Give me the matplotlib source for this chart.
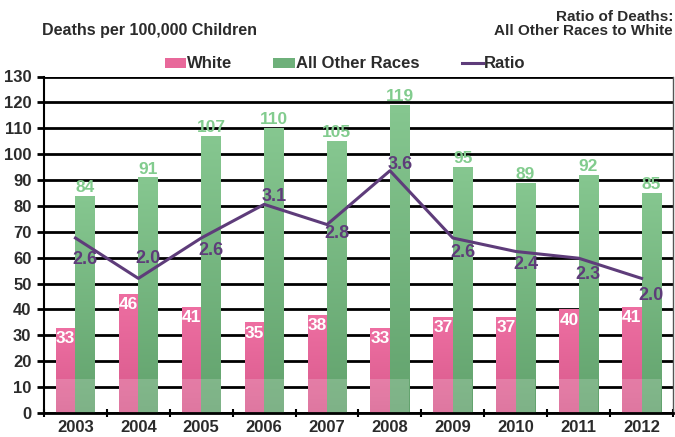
import matplotlib
matplotlib.use("Agg")
import matplotlib.pyplot as plt
from matplotlib.colors import LinearSegmentedColormap
from matplotlib import font_manager
import numpy as np

years = ["2003", "2004", "2005", "2006", "2007", "2008", "2009", "2010", "2011", "2012"]
white = [33, 46, 41, 35, 38, 33, 37, 37, 40, 41]
other = [84, 91, 107, 110, 105, 119, 95, 89, 92, 85]
ratio = [2.6, 2.0, 2.6, 3.1, 2.8, 3.6, 2.6, 2.4, 2.3, 2.0]
yticks = list(range(0, 131, 10))

# vertical placement of the ratio labels relative to their points (pixels, + is down)
ratio_label_dy = [21, -20, 12, -8, 9, -6, 14, 13, 16, 17]


def pick_family(*names):
    for n in names:
        try:
            font_manager.findfont(font_manager.FontProperties(family=n), fallback_to_default=False)
            return n
        except Exception:
            continue
    return "DejaVu Sans"


NARROW = pick_family("Liberation Sans Narrow", "Liberation Sans")
plt.rcParams['font.family'] = [NARROW, 'Liberation Sans', 'DejaVu Sans']
plt.rcParams['font.weight'] = 'bold'

PINK = "#e8689a"
GREEN = "#6eb07a"
GREEN_TXT = "#82cc8e"
PURPLE = "#5e3c7a"
TXT = "#2b2b2b"

fig = plt.figure(figsize=(6.75, 4.37), dpi=100)
W, H = 675, 437
left, right, top, bottom = 44, 673, 76.5, 413
ax = fig.add_axes([left / W, 1 - bottom / H, (right - left) / W, (bottom - top) / H])

x = np.arange(len(years))
bw = 0.31


def gradient_bars(xs, vals, c_top, c_bot):
    grad = np.linspace(0, 1, 256).reshape(-1, 1)
    cmap = LinearSegmentedColormap.from_list("g", [c_bot, c_top])
    bars = ax.bar(xs, vals, bw, color=c_bot, edgecolor="none", zorder=3)
    for b in bars:
        x0, y0 = b.get_x(), b.get_y()
        w, h = b.get_width(), b.get_height()
        im = ax.imshow(grad, extent=[x0, x0 + w, y0, y0 + h], origin="lower",
                       aspect="auto", cmap=cmap, zorder=3.2)
        im.set_clip_path(b)
        # lighter base band
        ax.add_patch(plt.Rectangle((x0, 0), w, min(13, h), color="white",
                                   alpha=0.18, lw=0, zorder=4))
    return bars


gradient_bars(x - bw / 2, white, "#ee6fa2", "#d85a8c")
gradient_bars(x + bw / 2, other, "#86c790", "#62a26d")

ax.set_xlim(-0.5, len(years) - 0.5)
ax.set_ylim(0, 130)
ax.set_yticks(yticks)
ax.set_yticklabels([str(t) for t in yticks], fontsize=12, color=TXT)
ax.yaxis.grid(True, color="black", lw=2.0)
ax.set_axisbelow(True)
ax.tick_params(axis="y", length=5, width=2, pad=4, colors="black", labelcolor=TXT)

ax.set_xticks(x)
ax.set_xticklabels(years, fontsize=12, color=TXT)
ax.set_xticks(np.arange(-0.5, len(years), 1), minor=True)
ax.tick_params(axis="x", which="major", length=0, pad=5)
ax.tick_params(axis="x", which="minor", length=6, width=1.5, direction="inout", colors="black")

ax.spines["top"].set_visible(False)
ax.spines["right"].set_color("#555555")
ax.spines["right"].set_linewidth(1.0)
ax.spines["left"].set_linewidth(1.5)
ax.spines["bottom"].set_linewidth(2.0)
ax.spines["bottom"].set_zorder(5)

for xi, v in zip(x, white):
    ax.text(xi - bw / 2, v - 1.2, str(v), ha="center", va="top", color="white",
            fontsize=12.5, fontweight="bold", zorder=6)
for xi, v in zip(x, other):
    ax.text(xi + bw / 2, v + 0.3, str(v), ha="center", va="bottom", color=GREEN_TXT,
            fontsize=12.5, fontweight="bold", zorder=6)

ax2 = ax.twinx()
ax2.set_ylim(0, 5)
ax2.set_yticks([])
for s in ax2.spines.values():
    s.set_visible(False)
ax2.plot(x, ratio, color=PURPLE, lw=2.2, zorder=5)
for xi, r, dy in zip(x, ratio, ratio_label_dy):
    ax2.annotate(f"{r:.1f}", (xi + bw / 2, r), xytext=(0, -dy * 0.72), textcoords="offset points",
                 ha="center", va="center", color=PURPLE, fontsize=13, fontweight="bold", zorder=7)

fig.text(42 / W, 1 - 31 / H, "Deaths per 100,000 Children", ha="left", va="center",
         fontsize=11.5, fontweight="bold", color=TXT, family=["Liberation Sans", "DejaVu Sans"])
fig.text(673 / W, 1 - 24 / H, "Ratio of Deaths:\nAll Other Races to White", ha="right",
         va="center", fontsize=11, fontweight="bold", color=TXT, linespacing=0.95,
         family=["Liberation Sans", "DejaVu Sans"])

# legend drawn in figure pixel coordinates
ly = 1 - 63 / H
fig.add_artist(plt.Rectangle((165 / W, ly - 4.5 / H), 21 / W, 9 / H, transform=fig.transFigure,
                             color=PINK, lw=0))
fig.add_artist(plt.Rectangle((273 / W, ly - 4.5 / H), 22 / W, 9 / H, transform=fig.transFigure,
                             color=GREEN, lw=0))
fig.add_artist(plt.Line2D([462 / W, 483 / W], [ly, ly], transform=fig.transFigure,
                          color=PURPLE, lw=2.2))
for tx, lab in [(187, "White"), (296, "All Other Races"), (484, "Ratio")]:
    fig.text(tx / W, ly, lab, ha="left", va="center", fontsize=12, fontweight="bold", color=TXT)

fig.savefig("out.png", dpi=100)
